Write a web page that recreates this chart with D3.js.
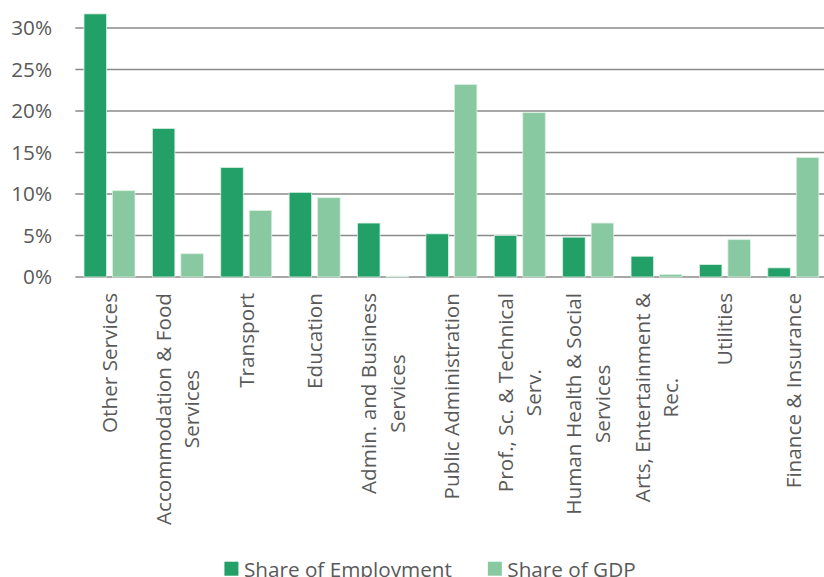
<!DOCTYPE html>
<html>
<head>
<meta charset="utf-8">
<script src="https://cdn.jsdelivr.net/npm/d3@7"></script>
<style>
  html, body { margin: 0; padding: 0; background: #fff; }
  svg { display: block; }
  text { font-family: "Open Sans", sans-serif; fill: #595959; }
</style>
</head>
<body>
<svg id="chart" width="824" height="577"></svg>
<script>
// Sectors (line breaks mark the wrapped axis labels)
const categories = [
  ["Other Services"],
  ["Accommodation & Food", "Services"],
  ["Transport"],
  ["Education"],
  ["Admin. and Business", "Services"],
  ["Public Administration"],
  ["Prof., Sc. & Technical", "Serv."],
  ["Human Health & Social", "Services"],
  ["Arts, Entertainment &", "Rec."],
  ["Utilities"],
  ["Finance & Insurance"]
];
const seriesNames = ["Share of Employment", "Share of GDP"];
const employment = [0.317, 0.179, 0.132, 0.102, 0.065, 0.052, 0.050, 0.048, 0.025, 0.015, 0.011];
const gdp        = [0.104, 0.028, 0.080, 0.0955, 0.001, 0.232, 0.198, 0.065, 0.003, 0.045, 0.144];
const yTicks = [0, 0.05, 0.10, 0.15, 0.20, 0.25, 0.30];
const colors = ["#23a067", "#88c9a1"];

const svg = d3.select("#chart");
const plotLeft = 75.3, plotRight = 827.5, plotTop = 28, plotBottom = 277;
const fontSize = 20.7;

const keys = categories.map((c, i) => i);
const x0 = d3.scaleBand().domain(keys).range([plotLeft, plotRight]).padding(0);
const x1 = d3.scaleBand().domain([0, 1]).range([0, x0.bandwidth()])
  .paddingInner(0.2105).paddingOuter(0.305);
const y = d3.scaleLinear().domain([0, 0.30]).range([plotBottom, plotTop]);

// Horizontal gridlines, including the zero line
svg.append("g")
  .selectAll("line")
  .data(yTicks)
  .join("line")
  .attr("x1", plotLeft).attr("x2", 824)
  .attr("y1", d => y(d)).attr("y2", d => y(d))
  .attr("stroke", "#8a8a8a")
  .attr("stroke-width", 1.3);

// Y axis tick labels
const yAxis = d3.axisLeft(y).tickValues(yTicks).tickFormat(d3.format(".0%")).tickSize(0).tickPadding(0);
const yg = svg.append("g").attr("transform", "translate(52,0)").call(yAxis);
yg.select(".domain").remove();
yg.selectAll("text")
  .attr("font-size", fontSize)
  .style("font-family", "'Open Sans', sans-serif")
  .attr("fill", "#595959");

// Bars
const rows = keys.map(i => [employment[i], gdp[i]]);
const groups = svg.append("g").selectAll("g")
  .data(rows)
  .join("g")
  .attr("transform", (d, i) => `translate(${x0(i)},0)`);
groups.selectAll("rect")
  .data(d => d.map((v, s) => ({ v, s })))
  .join("rect")
  .attr("x", d => x1(d.s))
  .attr("width", x1.bandwidth())
  .attr("y", d => y(d.v))
  .attr("height", d => y(0) - y(d.v))
  .attr("fill", d => colors[d.s])
  .attr("stroke", "#d9efe2")
  .attr("stroke-width", 0.8);

// Rotated category labels, each line centred on the longest one
const lineH = 28.3;
const labelTop = 293;
const lab = svg.append("g");
categories.forEach((lines, i) => {
  const cx = x0(i) + x0.bandwidth() / 2;
  const g = lab.append("g");
  const ts = lines.map((t, k) => g.append("text")
    .attr("font-size", fontSize)
    .attr("text-anchor", "middle")
    .attr("x", 0)
    .attr("y", (k - (lines.length - 1) / 2) * lineH)
    .attr("dy", "0.36em")
    .text(t));
  const maxW = d3.max(ts, t => t.node().getComputedTextLength());
  g.attr("transform", `translate(${cx},${labelTop + maxW / 2}) rotate(-90)`);
});

// Legend
const leg = svg.append("g");
const sw = 14, gapText = 5.5, gapItem = 36, baseY = 576.5;
let xpos = 0;
seriesNames.forEach((name, s) => {
  const g = leg.append("g");
  g.append("rect").attr("x", 0).attr("y", baseY - 14.8).attr("width", sw).attr("height", sw).attr("fill", colors[s]);
  const t = g.append("text").attr("x", sw + gapText).attr("y", baseY).attr("font-size", fontSize).text(name);
  const w = sw + gapText + t.node().getComputedTextLength();
  g.attr("transform", `translate(${xpos},0)`);
  xpos += w + gapItem;
});
const totalW = xpos - gapItem;
leg.attr("transform", `translate(${430 - totalW / 2},0)`);
</script>
</body>
</html>
